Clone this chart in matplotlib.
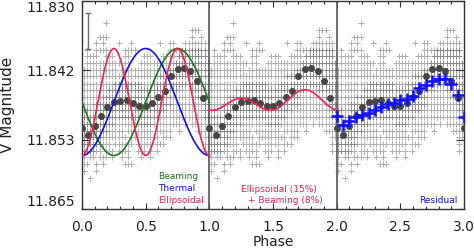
import numpy as np
import matplotlib.pyplot as plt

plt.rcParams['font.family'] = 'DejaVu Sans'

# binned light curve, 20 bins per orbit (phase 0.00 ... 0.95)
bin_phase = np.arange(20) * 0.05
bin_mag = [11.8514, 11.8526, 11.8511, 11.8493, 11.8478, 11.8470, 11.8469, 11.8467, 11.8472, 11.8477,
           11.8477, 11.8471, 11.8461, 11.8451, 11.8426, 11.8414, 11.8413, 11.8418, 11.8435, 11.8464]

# residuals after removing ellipsoidal + beaming
resid_phase = 2.0 + np.arange(21) * 0.05
resid_mag = [11.8494, 11.8508, 11.8502, 11.8495, 11.8491, 11.8489, 11.8484, 11.8478, 11.8474, 11.8472,
             11.8467, 11.8465, 11.8460, 11.8447, 11.8442, 11.8434, 11.8431, 11.8431, 11.8439, 11.8459,
             11.8495]

# model parameters
mag0 = 11.847
amp = 0.009
ell_frac = 0.15
beam_frac = 0.08

# individual measurements, read as an occupancy map: one string per magnitude row,
# 40 phase columns per orbit; '+' = a few points, '#' = many points
row_mag = [11.8337, 11.8348, 11.8360, 11.8371, 11.8382, 11.8393, 11.8405, 11.8416, 11.8427, 11.8439,
           11.8450, 11.8461, 11.8473, 11.8484, 11.8495, 11.8507, 11.8518, 11.8529, 11.8540, 11.8552,
           11.8563, 11.8574, 11.8586, 11.8597]
cloud = [
    ".......+",
    "." * 34 + "+++",
    ".....+++" + "." * 26 + "+..+",
    "....+.+....+...+........+..++...+++++++.",
    ".+..++++.....++++..........++++########.",
    ".++++..+++...++....+++...++++.#########.",
    ".+++++++++++.++...+++++++++++###########",
    "+++++++++++.+++++++++++++++#############",
    "++++++++++++++++++++++++################",
    "++++++++++########++++##################",
    "++++++++######################++++######",
    "++++++######################++++++++####",
    "++++########################++++++++++##",
    "##++######################++++++++++++##",
    "########################++++++++++++++##",
    "##########++++++++####+++++++++.+.++++++",
    "########+++++.++++++++.+++++..+.....++++",
    "######++++++++.+++++++++.+++..........++",
    "######+++.++++++.+++++.+++............+.",
    "####++.+++.++++..+++.+.+..............+.",
    "+.++.+++.+..+.+...+..+",
    "++..+.+......+++",
    "+...+",
    "..+",
]

green = '#1e7a1e'
blue = '#1010ff'
red = '#ff1f4f'

fig = plt.figure(figsize=(4.74, 2.5), dpi=100)
ax = fig.add_axes([0.173, 0.164, 0.806, 0.832])

light_x, light_y, dense_x, dense_y = [], [], [], []
for m, row in zip(row_mag, cloud):
    row = row.ljust(40, '.')[:40]
    for c, ch in enumerate(row):
        if ch == '.':
            continue
        for p in range(3):
            ph = p + (c + 0.5) / 40.0
            if ch == '#':
                dense_x.append(ph)
                dense_y.append(m)
            else:
                light_x.append(ph)
                light_y.append(m)
ax.plot(light_x, light_y, '+', color='#b0b0b0', ms=3.8, mew=0.7, zorder=1)
ax.plot(dense_x, dense_y, '+', color='#8a8a8a', ms=3.8, mew=0.7, zorder=1)

# binned means repeated over three orbits
dot_x = np.arange(61) * 0.05
dot_y = list(bin_mag) * 3 + [bin_mag[0]]
ax.plot(dot_x, dot_y, 'o', color='#464646', ms=5, mec='none', zorder=3)

ax.axvline(1, color='#555555', lw=1.2, zorder=2)
ax.axvline(2, color='#555555', lw=1.2, zorder=2)

phi = np.linspace(0, 1, 300)
ax.plot(phi, mag0 + amp * np.sin(2 * np.pi * phi), color=green, lw=1.2, zorder=4)
ax.plot(phi, mag0 + amp * np.cos(2 * np.pi * phi), color=blue, lw=1.2, zorder=4)
ax.plot(phi, mag0 + amp * np.cos(4 * np.pi * phi), color=red, lw=1.2, zorder=4)
comb = mag0 + ell_frac * amp * np.cos(4 * np.pi * phi) + beam_frac * amp * np.sin(2 * np.pi * phi)
ax.plot(1 + phi, comb, color=red, lw=1.2, zorder=4)

ax.plot(resid_phase, resid_mag, '+', color=blue, ms=8, mew=1.8, zorder=5)

ax.errorbar([0.05], [11.835], yerr=[0.003], color='#707070', capsize=2.5, lw=1, capthick=1, zorder=4)

ax.text(0.597, 11.8596, 'Beaming', color=green, fontsize=6.5, va='center')
ax.text(0.597, 11.8615, 'Thermal', color=blue, fontsize=6.5, va='center')
ax.text(0.597, 11.8635, 'Ellipsoidal', color=red, fontsize=6.5, va='center')
ax.text(1.25, 11.8617, 'Ellipsoidal (15%)', color=red, fontsize=6.5, va='center')
ax.text(1.304, 11.8636, '+ Beaming (8%)', color=red, fontsize=6.5, va='center')
ax.text(2.647, 11.8636, 'Residual', color=blue, fontsize=6.5, va='center')

ax.set_xlim(0, 3)
ax.set_ylim(11.865, 11.830)
xt = np.arange(0, 3.01, 0.5)
ax.set_xticks(xt)
ax.set_xticklabels(['%.1f' % v for v in xt])
ax.set_xticks(np.arange(0, 3.01, 0.1), minor=True)
yt = np.linspace(11.830, 11.865, 4)
ax.set_yticks(yt)
ylabels = ax.set_yticklabels(['%.3f' % v for v in yt])
ylabels[0].set_va('top')
ylabels[-1].set_va('bottom')

ax.tick_params(which='both', direction='in', top=True, right=True, colors='#333333')
ax.tick_params(axis='x', which='major', length=4.5, width=0.8, labelsize=10, pad=8, labelcolor='#222222')
ax.tick_params(axis='x', which='minor', length=2.5, width=0.8)
ax.tick_params(axis='y', which='major', length=6, width=0.8, labelsize=10, pad=5, labelcolor='#222222')
for s in ax.spines.values():
    s.set_color('#333333')
    s.set_linewidth(1.0)

ax.set_xlabel('Phase', fontsize=10, labelpad=1, color='#222222')
ax.set_ylabel('V Magnitude', fontsize=11, labelpad=8, color='#222222')

fig.savefig('out.png', dpi=100)
